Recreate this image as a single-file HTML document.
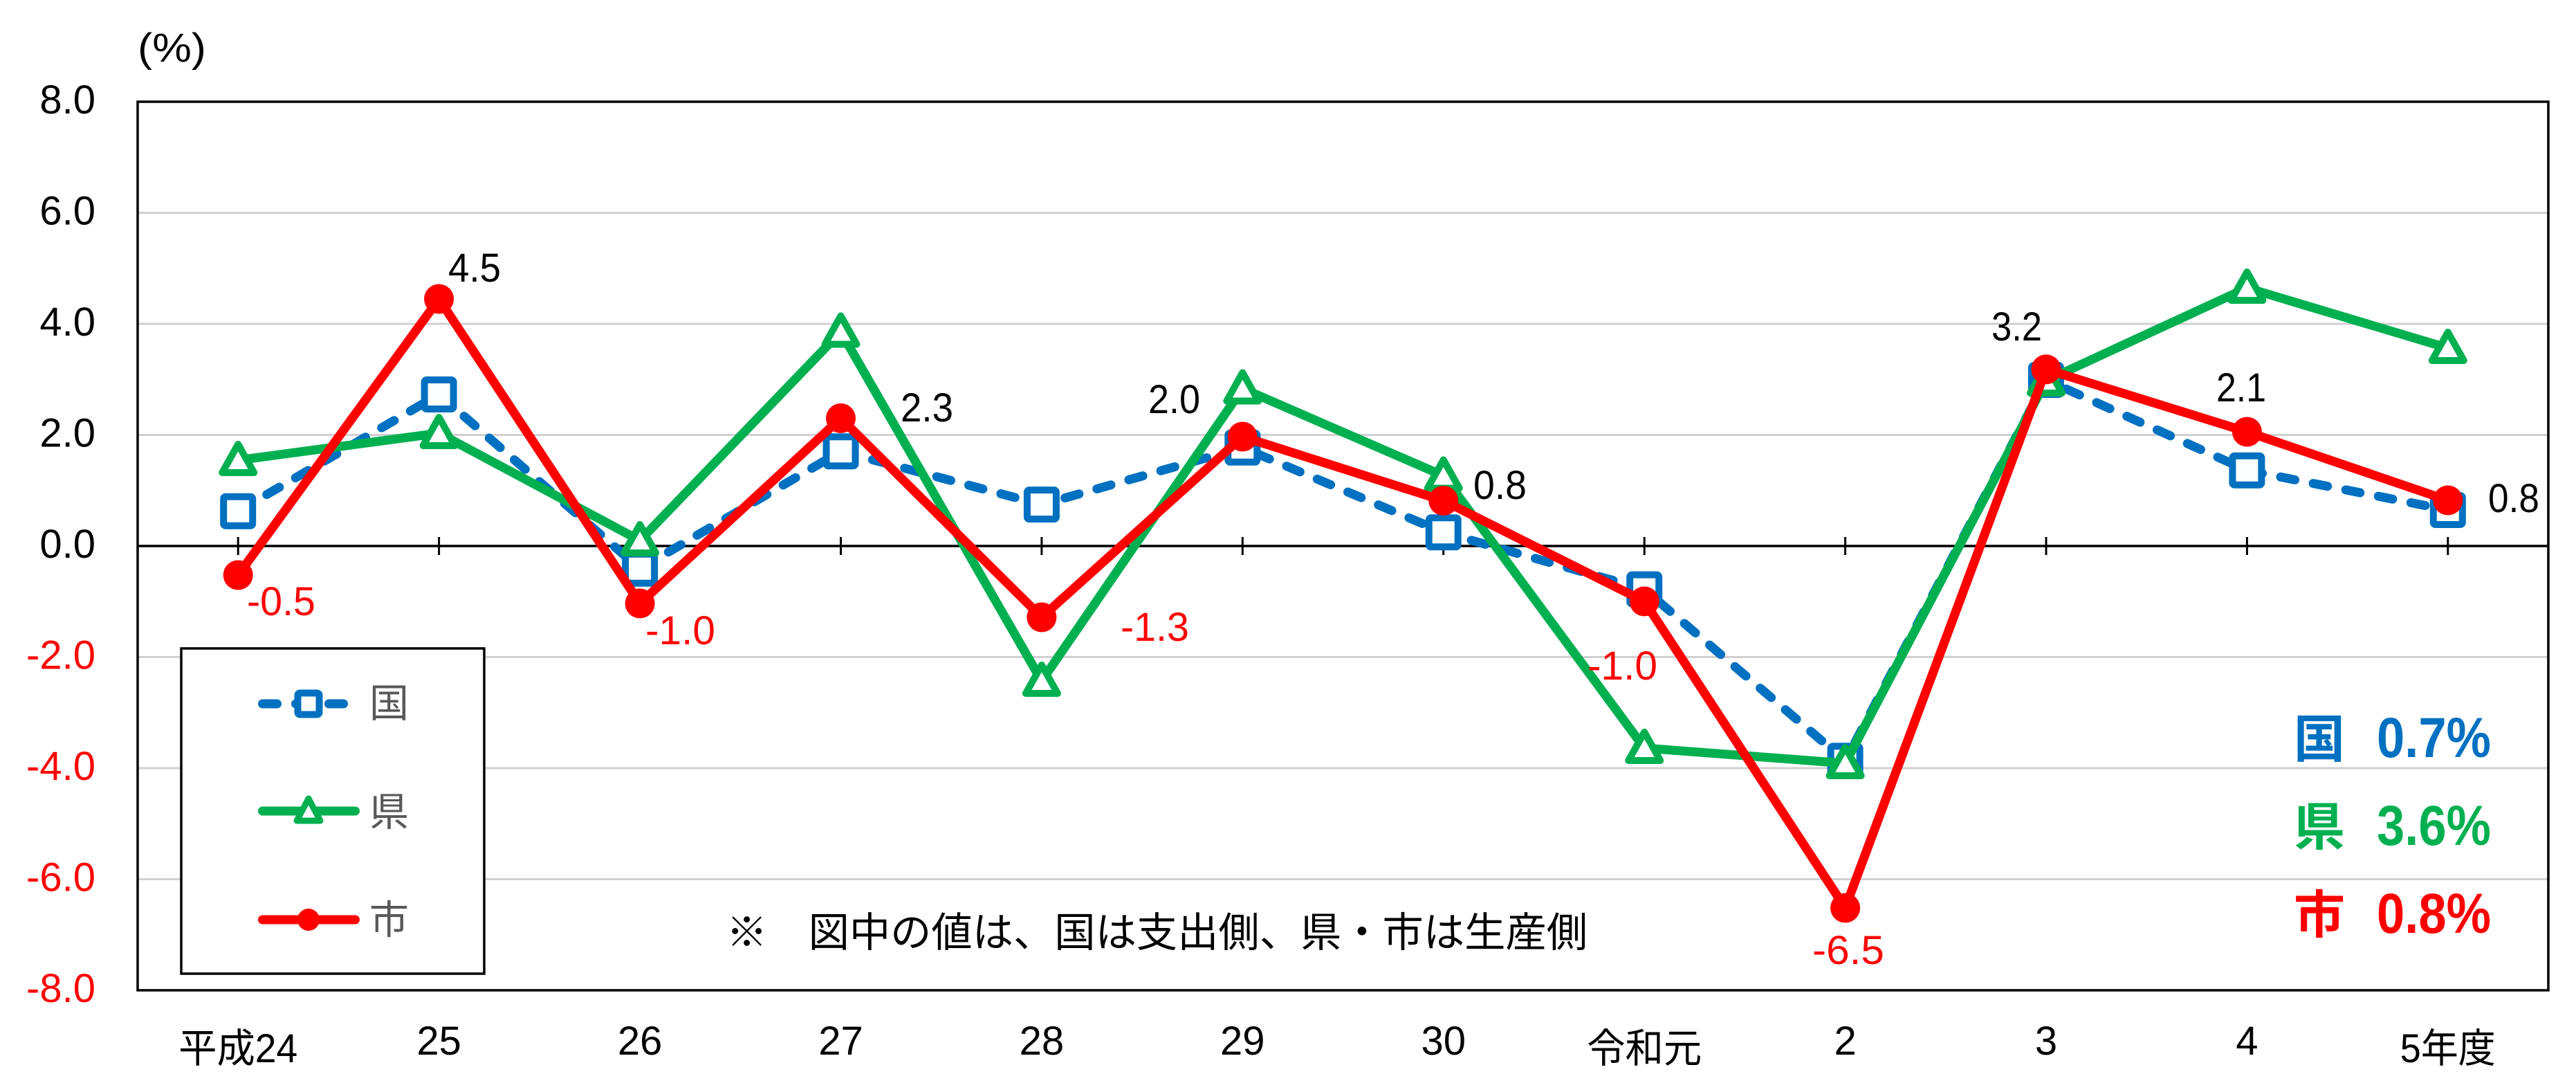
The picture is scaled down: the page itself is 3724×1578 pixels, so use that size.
<!DOCTYPE html>
<html>
<head>
<meta charset="utf-8">
<style>
html,body{margin:0;padding:0;background:#fff;}
svg{display:block;}
text{font-family:"Liberation Sans","Noto Sans CJK JP",sans-serif;}
</style>
</head>
<body>
<svg xmlns="http://www.w3.org/2000/svg" width="3724" height="1578" viewBox="0 0 3724 1578">
<rect x="0" y="0" width="3724" height="1578" fill="#fff"/>
<defs>
<rect id="sq" x="-21" y="-21" width="42" height="42" rx="3" fill="#fdfeff" stroke="#0070C0" stroke-width="10"/>
<path id="tri" d="M0,-23 L23,18 L-23,18 Z" fill="#fff" stroke="#00B050" stroke-width="10" stroke-linejoin="round"/>
<circle id="dot" cx="0" cy="0" r="21.5" fill="#FF0000"/>
</defs>

<!-- gridlines -->
<g stroke="#d0d0d0" stroke-width="3">
<line x1="199" y1="307.5" x2="3684" y2="307.5"/>
<line x1="199" y1="468" x2="3684" y2="468"/>
<line x1="199" y1="628.5" x2="3684" y2="628.5"/>
<line x1="199" y1="949.5" x2="3684" y2="949.5"/>
<line x1="199" y1="1110" x2="3684" y2="1110"/>
<line x1="199" y1="1270.5" x2="3684" y2="1270.5"/>
</g>

<!-- zero axis + ticks -->
<line x1="199" y1="789" x2="3684" y2="789" stroke="#000" stroke-width="3.5"/>
<g stroke="#000" stroke-width="3">
<line x1="344.2" y1="776" x2="344.2" y2="802"/>
<line x1="634.6" y1="776" x2="634.6" y2="802"/>
<line x1="925.1" y1="776" x2="925.1" y2="802"/>
<line x1="1215.5" y1="776" x2="1215.5" y2="802"/>
<line x1="1505.9" y1="776" x2="1505.9" y2="802"/>
<line x1="1796.3" y1="776" x2="1796.3" y2="802"/>
<line x1="2086.7" y1="776" x2="2086.7" y2="802"/>
<line x1="2377.2" y1="776" x2="2377.2" y2="802"/>
<line x1="2667.6" y1="776" x2="2667.6" y2="802"/>
<line x1="2958" y1="776" x2="2958" y2="802"/>
<line x1="3248.4" y1="776" x2="3248.4" y2="802"/>
<line x1="3538.8" y1="776" x2="3538.8" y2="802"/>
</g>

<!-- 国 series -->
<polyline fill="none" stroke="#0070C0" stroke-width="13" stroke-linecap="round" stroke-linejoin="round" stroke-dasharray="21 27"
points="344.2,738.7 634.6,570 925.1,821.8 1215.5,652.2 1505.9,729.1 1796.3,646.8 2086.7,769.3 2377.2,851.6 2667.6,1099.4 2958,549 3248.4,679.7 3538.8,737"/>
<use href="#sq" x="344.2" y="738.7"/>
<use href="#sq" x="634.6" y="570"/>
<use href="#sq" x="925.1" y="821.8"/>
<use href="#sq" x="1215.5" y="652.2"/>
<use href="#sq" x="1505.9" y="729.1"/>
<use href="#sq" x="1796.3" y="646.8"/>
<use href="#sq" x="2086.7" y="769.3"/>
<use href="#sq" x="2377.2" y="851.6"/>
<use href="#sq" x="2667.6" y="1099.4"/>
<use href="#sq" x="2958" y="549"/>
<use href="#sq" x="3248.4" y="679.7"/>
<use href="#sq" x="3538.8" y="737"/>

<!-- 県 series -->
<polyline fill="none" stroke="#00B050" stroke-width="13" stroke-linecap="round" stroke-linejoin="round"
points="344.2,665 634.6,626 925.1,781 1215.5,479.5 1505.9,984 1796.3,561.5 2086.7,687.5 2377.2,1081 2667.6,1103 2958,550 3248.4,416 3538.8,503"/>
<use href="#tri" x="344.2" y="665"/>
<use href="#tri" x="634.6" y="626"/>
<use href="#tri" x="925.1" y="781"/>
<use href="#tri" x="1215.5" y="479.5"/>
<use href="#tri" x="1505.9" y="984"/>
<use href="#tri" x="1796.3" y="561.5"/>
<use href="#tri" x="2086.7" y="687.5"/>
<use href="#tri" x="2377.2" y="1081"/>
<use href="#tri" x="2667.6" y="1103"/>
<use href="#tri" x="2958" y="550"/>
<use href="#tri" x="3248.4" y="416"/>
<use href="#tri" x="3538.8" y="503"/>

<!-- 市 series -->
<polyline fill="none" stroke="#FF0000" stroke-width="13" stroke-linecap="round" stroke-linejoin="round"
points="344.2,831 634.6,432 925.1,872 1215.5,604.4 1505.9,892 1796.3,631 2086.7,723.5 2377.2,869 2667.6,1312 2958,533.7 3248.4,624 3538.8,723"/>
<use href="#dot" x="344.2" y="831"/>
<use href="#dot" x="634.6" y="432"/>
<use href="#dot" x="925.1" y="872"/>
<use href="#dot" x="1215.5" y="604.4"/>
<use href="#dot" x="1505.9" y="892"/>
<use href="#dot" x="1796.3" y="631"/>
<use href="#dot" x="2086.7" y="723.5"/>
<use href="#dot" x="2377.2" y="869"/>
<use href="#dot" x="2667.6" y="1312"/>
<use href="#dot" x="2958" y="533.7"/>
<use href="#dot" x="3248.4" y="624"/>
<use href="#dot" x="3538.8" y="723"/>

<!-- plot border -->
<rect x="199" y="147" width="3485" height="1284" fill="none" stroke="#000" stroke-width="3.5"/>

<!-- data labels -->
<g font-size="58">
<text x="648" y="407" textLength="76" lengthAdjust="spacingAndGlyphs" fill="#000">4.5</text>
<text x="357" y="889" textLength="99" lengthAdjust="spacingAndGlyphs" fill="#FF0000">-0.5</text>
<text x="933" y="931" textLength="101" lengthAdjust="spacingAndGlyphs" fill="#FF0000">-1.0</text>
<text x="1302" y="609" textLength="76" lengthAdjust="spacingAndGlyphs" fill="#000">2.3</text>
<text x="1620" y="926" textLength="99" lengthAdjust="spacingAndGlyphs" fill="#FF0000">-1.3</text>
<text x="1660" y="597" textLength="75" lengthAdjust="spacingAndGlyphs" fill="#000">2.0</text>
<text x="2130" y="721" textLength="77" lengthAdjust="spacingAndGlyphs" fill="#000">0.8</text>
<text x="2295" y="982" textLength="101" lengthAdjust="spacingAndGlyphs" fill="#FF0000">-1.0</text>
<text x="2620" y="1393" textLength="104" lengthAdjust="spacingAndGlyphs" fill="#FF0000">-6.5</text>
<text x="2879" y="492" textLength="73" lengthAdjust="spacingAndGlyphs" fill="#000">3.2</text>
<text x="3204" y="580" textLength="72" lengthAdjust="spacingAndGlyphs" fill="#000">2.1</text>
<text x="3597" y="740" textLength="74" lengthAdjust="spacingAndGlyphs" fill="#000">0.8</text>
</g>

<!-- y axis labels -->
<g font-size="58" text-anchor="end">
<text x="138" y="164" fill="#000">8.0</text>
<text x="138" y="324.5" fill="#000">6.0</text>
<text x="138" y="485" fill="#000">4.0</text>
<text x="138" y="645.5" fill="#000">2.0</text>
<text x="138" y="806" fill="#000">0.0</text>
<text x="138" y="966.5" fill="#FF0000">-2.0</text>
<text x="138" y="1127" fill="#FF0000">-4.0</text>
<text x="138" y="1287.5" fill="#FF0000">-6.0</text>
<text x="138" y="1448" fill="#FF0000">-8.0</text>
</g>
<text x="199" y="89" font-size="58" textLength="99" lengthAdjust="spacingAndGlyphs" fill="#000">(%)</text>

<!-- x axis labels -->
<g font-size="58" fill="#000" text-anchor="middle">
<text x="344.2" y="1535" textLength="172" lengthAdjust="spacingAndGlyphs">平成24</text>
<text x="634.6" y="1524">25</text>
<text x="925.1" y="1524">26</text>
<text x="1215.5" y="1524">27</text>
<text x="1505.9" y="1524">28</text>
<text x="1796.3" y="1524">29</text>
<text x="2086.7" y="1524">30</text>
<text x="2377.2" y="1535" textLength="166" lengthAdjust="spacingAndGlyphs">令和元</text>
<text x="2667.6" y="1524">2</text>
<text x="2958" y="1524">3</text>
<text x="3248.4" y="1524">4</text>
<text x="3538.8" y="1535" textLength="138" lengthAdjust="spacingAndGlyphs">5年度</text>
</g>

<!-- note -->
<text x="1050" y="1368" font-size="59" fill="#000" textLength="1245" lengthAdjust="spacingAndGlyphs">※　図中の値は、国は支出側、県・市は生産側</text>

<!-- legend -->
<rect x="262" y="937" width="438" height="470" fill="#fff" stroke="#000" stroke-width="3.5"/>
<line x1="379.5" y1="1017" x2="513.5" y2="1017" stroke="#0070C0" stroke-width="13" stroke-linecap="round" stroke-dasharray="21 27"/>
<rect x="430.5" y="1001.5" width="31" height="31" rx="3" fill="#fdfeff" stroke="#0070C0" stroke-width="10"/>
<line x1="379.5" y1="1172" x2="513.5" y2="1172" stroke="#00B050" stroke-width="13" stroke-linecap="round"/>
<path d="M446,1154 L463,1186 L429,1186 Z" fill="#fff" stroke="#00B050" stroke-width="9" stroke-linejoin="round"/>
<line x1="379.5" y1="1329" x2="513.5" y2="1329" stroke="#FF0000" stroke-width="13" stroke-linecap="round"/>
<circle cx="446" cy="1329" r="16" fill="#FF0000"/>
<g font-size="57" fill="#595959">
<text x="534" y="1036">国</text>
<text x="534" y="1193">県</text>
<text x="534" y="1349">市</text>
</g>

<!-- summary -->
<g font-weight="bold">
<text x="3316" y="1094" font-size="74" fill="#0070C0">国</text>
<text x="3436" y="1094" font-size="82" fill="#0070C0" textLength="165" lengthAdjust="spacingAndGlyphs">0.7%</text>
<text x="3316" y="1221" font-size="74" fill="#00B050">県</text>
<text x="3436" y="1221" font-size="82" fill="#00B050" textLength="165" lengthAdjust="spacingAndGlyphs">3.6%</text>
<text x="3316" y="1348" font-size="74" fill="#FF0000">市</text>
<text x="3436" y="1348" font-size="82" fill="#FF0000" textLength="165" lengthAdjust="spacingAndGlyphs">0.8%</text>
</g>
</svg>
</body>
</html>
